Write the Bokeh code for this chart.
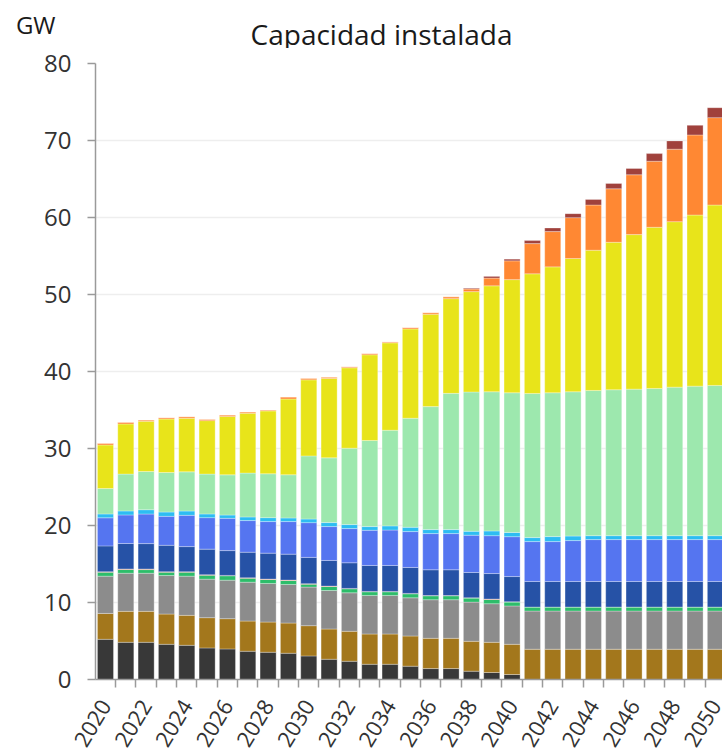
from bokeh.plotting import figure
from bokeh.layouts import column
from bokeh.models import FixedTicker, Range1d, ColumnDataSource
from bokeh.core.properties import value
from bokeh.embed import file_html
from bokeh.resources import INLINE

years = list(range(2020, 2051))

carbon = [5.22, 4.83, 4.83, 4.57, 4.44, 4.10, 3.97, 3.67, 3.54, 3.41, 3.06, 2.63, 2.37, 1.98, 1.98, 1.73,
          1.42, 1.42, 1.08, 0.91, 0.65, 0, 0, 0, 0, 0, 0, 0, 0, 0, 0]
nuclear = [3.36, 4.02, 4.02, 3.93, 3.89, 3.93, 3.93, 3.92, 3.92, 3.92, 3.93, 3.93, 3.89, 3.93, 3.93, 3.92,
           3.93, 3.93, 3.88, 3.92, 3.92, 3.93, 3.93, 3.93, 3.93, 3.93, 3.93, 3.93, 3.93, 3.93, 3.93]
ciclo = [4.84, 4.95, 4.95, 5.00, 5.09, 5.00, 5.00, 5.05, 5.01, 5.01, 5.01, 5.00, 5.00, 5.01, 5.01, 4.96,
         5.01, 5.01, 5.09, 5.01, 4.98, 4.96, 4.96, 4.96, 4.96, 4.96, 4.96, 4.96, 4.96, 4.96, 4.96]
cogen = [0.52, 0.48, 0.47, 0.44, 0.52, 0.52, 0.57, 0.52, 0.52, 0.52, 0.38, 0.52, 0.52, 0.47, 0.47, 0.52,
         0.51, 0.51, 0.52, 0.56, 0.50, 0.52, 0.52, 0.52, 0.52, 0.52, 0.52, 0.52, 0.52, 0.52, 0.52]
fuel = [0.06, 0.08, 0.08, 0.06, 0.06, 0.06, 0.05, 0.05, 0.05, 0.05, 0.07, 0.05, 0.05, 0.05, 0.05, 0.05,
        0.04, 0.04, 0.04, 0.05, 0.05, 0, 0, 0, 0, 0, 0, 0, 0, 0, 0]
hidraulica = [3.35, 3.30, 3.30, 3.43, 3.26, 3.32, 3.22, 3.32, 3.37, 3.37, 3.41, 3.33, 3.33, 3.37, 3.37, 3.37,
              3.34, 3.34, 3.29, 3.31, 3.27, 3.32, 3.32, 3.32, 3.32, 3.32, 3.32, 3.32, 3.32, 3.32, 3.32]
bombeo = [3.65, 3.71, 3.84, 3.76, 4.06, 4.09, 4.19, 4.11, 4.10, 4.23, 4.51, 4.40, 4.44, 4.57, 4.60, 4.66,
          4.70, 4.70, 4.84, 4.92, 5.18, 5.18, 5.18, 5.31, 5.44, 5.44, 5.44, 5.44, 5.44, 5.44, 5.44]
otras = [0.50, 0.52, 0.56, 0.56, 0.56, 0.48, 0.43, 0.47, 0.51, 0.47, 0.47, 0.52, 0.52, 0.48, 0.54, 0.56,
         0.52, 0.52, 0.51, 0.61, 0.55, 0.52, 0.65, 0.59, 0.51, 0.51, 0.51, 0.51, 0.51, 0.51, 0.51]
eolica = [3.30, 4.79, 4.96, 5.13, 5.09, 5.18, 5.22, 5.70, 5.70, 5.61, 8.20, 8.41, 9.92, 11.18, 12.42, 14.16,
          15.97, 17.69, 18.09, 18.08, 18.14, 18.72, 18.68, 18.74, 18.86, 18.95, 19.03, 19.12, 19.29, 19.42, 19.51]
solar = [5.66, 6.51, 6.52, 6.95, 6.95, 6.94, 7.59, 7.76, 8.16, 9.84, 9.88, 10.31, 10.44, 11.13, 11.35, 11.60,
         11.99, 12.30, 13.03, 13.76, 14.69, 15.54, 16.35, 17.30, 18.21, 19.15, 20.07, 20.93, 21.49, 22.22, 23.43]
baterias = [0.22, 0.22, 0.17, 0.17, 0.21, 0.17, 0.18, 0.18, 0.12, 0.26, 0.20, 0.17, 0.13, 0.17, 0.12, 0.18,
            0.21, 0.25, 0.34, 1.00, 2.44, 3.92, 4.58, 5.31, 5.87, 6.95, 7.77, 8.58, 9.41, 10.40, 11.35]
otras_alm = [0, 0, 0, 0, 0, 0, 0, 0, 0, 0, 0, 0, 0, 0, 0, 0,
             0, 0, 0.10, 0.22, 0.22, 0.39, 0.47, 0.52, 0.73, 0.69, 0.81, 0.99, 1.08, 1.25, 1.29]

series = ["carbon", "nuclear", "ciclo", "cogen", "fuel", "hidraulica", "bombeo", "otras",
          "eolica", "solar", "baterias", "otras_alm"]
colors = ["#383838", "#A3771C", "#8C8C8C", "#2DBD6A", "#E0524C", "#2652A6", "#5575F0", "#2DBDF2",
          "#9DE8AE", "#E8E41A", "#FF8833", "#A0413C"]

y_ticks = [0, 10, 20, 30, 40, 50, 60, 70, 80]
label_years = list(range(2020, 2051, 2))
title_text = "Capacidad instalada"
unit_text = "GW"

# ---- header row: unit label (as axis label in the left border) + title ----
head = figure(width=722, height=48, output_backend="svg", toolbar_location=None,
              x_axis_location=None, y_axis_location="left",
              x_range=Range1d(95, 722), y_range=Range1d(0, 48),
              min_border_left=95, min_border_right=0, min_border_top=0, min_border_bottom=0)
head.grid.visible = False
head.outline_line_color = None
hy = head.yaxis[0]
hy.ticker = FixedTicker(ticks=[])
hy.axis_line_color = None
hy.major_tick_line_color = None
hy.minor_tick_line_color = None
hy.major_label_text_font_size = "0px"
hy.axis_label = unit_text
hy.axis_label_orientation = "horizontal"
hy.axis_label_standoff = 40
hy.axis_label_text_font = "Open Sans"
hy.axis_label_text_font_size = "24px"
hy.axis_label_text_font_style = "normal"
hy.axis_label_text_color = "#1a1a1a"
head.text(x=[381], y=[15.0], text=[title_text], text_align="center", text_baseline="alphabetic",
          text_font=value("Open Sans"), text_font_size=value("28px"), text_color="#1a1a1a")

# ---- main chart ----
source = ColumnDataSource(dict(year=years, carbon=carbon, nuclear=nuclear, ciclo=ciclo, cogen=cogen,
                               fuel=fuel, hidraulica=hidraulica, bombeo=bombeo, otras=otras,
                               eolica=eolica, solar=solar, baterias=baterias, otras_alm=otras_alm))

p = figure(width=722, height=707, output_backend="svg", toolbar_location=None,
           x_range=Range1d(2019.51, 2050.35), y_range=Range1d(0, 80),
           min_border_left=95, min_border_right=0, min_border_top=15, min_border_bottom=0)

p.vbar_stack(series, x="year", width=0.79, color=colors, source=source,
             line_color="white", line_width=0.6, line_alpha=0.5)

# labels at every other year, tick marks at the boundaries between bars
p.xaxis.ticker = FixedTicker(ticks=label_years, minor_ticks=[y - 0.5 for y in years] + [years[-1] + 0.5])
p.xaxis.major_label_orientation = 1.03
p.xaxis.major_label_standoff = 14
p.xaxis.major_label_text_font = "Open Sans"
p.xaxis.major_label_text_font_size = "22px"
p.xaxis.major_label_text_color = "#333333"
p.xaxis.major_tick_out = 8
p.xaxis.major_tick_in = 0
p.xaxis.major_tick_line_color = None
p.xaxis.minor_tick_out = 8
p.xaxis.minor_tick_in = 0
p.xaxis.axis_line_color = "#9a9a9a"
p.xaxis.minor_tick_line_color = "#9a9a9a"
p.xaxis.minor_tick_line_width = 1.5
p.xaxis.axis_line_width = 1.5

p.yaxis.ticker = FixedTicker(ticks=y_ticks)
p.yaxis.major_label_text_font = "Open Sans"
p.yaxis.major_label_text_font_size = "24px"
p.yaxis.major_label_text_color = "#333333"
p.yaxis.major_label_standoff = 16
p.yaxis.major_tick_out = 8
p.yaxis.major_tick_in = 0
p.yaxis.minor_tick_line_color = None
p.yaxis.axis_line_color = "#9a9a9a"
p.yaxis.major_tick_line_color = "#9a9a9a"
p.yaxis.major_tick_line_width = 1.5
p.yaxis.axis_line_width = 1.5

p.xgrid.grid_line_color = None
p.ygrid.grid_line_color = "#eeeeee"
p.ygrid.grid_line_width = 1.5
p.outline_line_color = None

layout = column(head, p, spacing=0)
open("out.html", "w").write(file_html(layout, INLINE))
